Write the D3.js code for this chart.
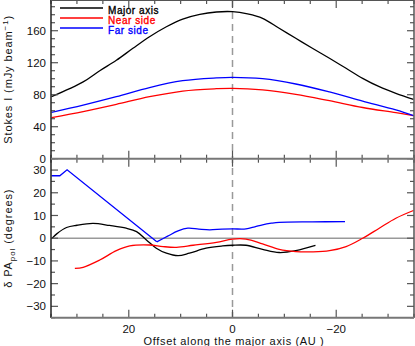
<!DOCTYPE html>
<html><head><meta charset="utf-8">
<script src="https://cdn.jsdelivr.net/npm/d3@7"></script>
<style>body{margin:0;background:#fff}svg{display:block}text{font-family:"Liberation Sans",Arial,sans-serif}</style>
</head><body><svg id="c" width="415" height="346"></svg>
<script>
// Top panel: Stokes I profiles [offset AU, mJy/beam]
const majorI = [[34.9,77.5],[28.8,96],[25.6,110],[22.4,123],[19.2,138],[16,152.5],[12.75,165],[9.6,174.6],[6.3,180.5],[3.1,183.4],[0,183.8],[-2.9,181],[-5.8,175.5],[-9,163],[-12.2,150.5],[-15.4,138],[-18.7,125.5],[-21.9,113],[-25.1,100.5],[-28.3,90],[-31.5,81.7],[-34.9,74.2]];
const nearI = [[34.9,51.3],[28.8,58.8],[22.4,68],[16,77.5],[9.6,84.6],[3.1,87.5],[0,88],[-5.8,86],[-12.2,80.5],[-18.7,72.5],[-25.1,64],[-31.5,57.5],[-34.9,53.8]];
const farI = [[34.9,58],[28.8,67],[22.4,77.5],[16,89],[9.6,97.5],[3.1,101],[0,101.7],[-5.8,100],[-12.2,93.4],[-18.7,83.4],[-25.1,72],[-31.5,61],[-34.9,53.8]];
// Bottom panel: delta PA_pol [offset AU, degrees]
const majorPA = [[34.9,-0.3],[33.9,1.9],[32,4.7],[30,5.7],[26.9,6.5],[23.7,5.6],[20.5,4.4],[18.5,2.9],[16.6,-0.75],[14.7,-4.4],[12.75,-6.6],[10.5,-7.7],[8.3,-6.6],[5.1,-4.4],[1.9,-3.4],[0,-3.1],[-2.6,-3.1],[-5.8,-4.9],[-9,-6.3],[-12.2,-5.5],[-16,-3.2]];
const nearPA = [[30.4,-13.3],[28.8,-12.8],[25.6,-9.6],[22.4,-5.5],[19.8,-3.4],[16,-3.0],[13.4,-3.7],[10.8,-4.0],[7.6,-3.1],[3.1,-1.8],[0,-0.4],[-2.6,-0.4],[-5.8,-2.5],[-9,-4.9],[-12.2,-5.9],[-15.4,-6.0],[-18.7,-5.5],[-21.9,-3.7],[-25.1,0],[-28.3,4.4],[-31.5,8.8],[-34.9,12.2]];
const farPAlinear = [[34.9,27.5],[33.3,27.5],[31.9,30.1],[14.6,-1.6]];
const farPAsmooth = [[14.6,-1.6],[12.5,0.9],[10.5,3.2],[8.6,4.4],[6.5,4.0],[4.4,3.7],[2,4.0],[0,4.1],[-2.6,4.1],[-4.3,5.0],[-5.8,5.9],[-7.5,6.6],[-9,7.0],[-15.4,7.2],[-21.7,7.3]];
const xTicks = [20, 0, -20];
const yTopTicks = [0, 40, 80, 120, 160];
const yBotTicks = [-30, -20, -10, 0, 10, 20, 30];
const legend = [["Major axis","#000"],["Near side","#f00"],["Far side","#00f"]];

const svg = d3.select("#c");
const L = 51, R = 414, T = 0, M = 158.7, B = 317.7;
const x = d3.scaleLinear().domain([35,-35]).range([L,R]);
const yT = d3.scaleLinear().domain([0,198.4]).range([M,T]);
const yB = d3.scaleLinear().domain([-35,35]).range([B,M]);
const fmt = d => d < 0 ? "\u2212" + Math.abs(d) : String(d);
const axCol = "#555";

// zero line & dashed center
svg.append("line").attr("x1",L).attr("x2",R).attr("y1",yB(0)).attr("y2",yB(0)).attr("stroke","#999").attr("stroke-width",1.5);
svg.append("line").attr("x1",x(0)).attr("x2",x(0)).attr("y1",T).attr("y2",B).attr("stroke","#999").attr("stroke-width",1.5).attr("stroke-dasharray","7,5");

function curve(data, ys, col, c) {
  svg.append("path").datum(data).attr("fill","none").attr("stroke",col).attr("stroke-width",1.3)
    .attr("d", d3.line().x(d=>x(d[0])).y(d=>ys(d[1])).curve(c || d3.curveCatmullRom));
}
curve(majorI,yT,"#000"); curve(nearI,yT,"#f00"); curve(farI,yT,"#00f");
curve(majorPA,yB,"#000"); curve(nearPA,yB,"#f00");
curve(farPAlinear,yB,"#00f", d3.curveLinear); curve(farPAsmooth,yB,"#00f");

// panels ticks
function panel(ys, y0, y1, ticks, minorStep) {
  const g = svg.append("g");
  d3.range(-35, 36, 5).forEach(v => {
    const len = v % 20 === 0 ? 8 : 4;
    g.append("line").attr("x1",x(v)).attr("x2",x(v)).attr("y1",ys(y0)).attr("y2",ys(y0)-len).attr("stroke",axCol).attr("stroke-width",1.2);
    g.append("line").attr("x1",x(v)).attr("x2",x(v)).attr("y1",ys(y1)).attr("y2",ys(y1)+len).attr("stroke",axCol).attr("stroke-width",1.2);
  });
  d3.range(Math.ceil(y0/minorStep)*minorStep, y1+0.01, minorStep).forEach(v => {
    const len = ticks.includes(v) ? 7 : 4;
    g.append("line").attr("x1",L).attr("x2",L+len).attr("y1",ys(v)).attr("y2",ys(v)).attr("stroke",axCol).attr("stroke-width",1.2);
    g.append("line").attr("x1",R).attr("x2",R-len).attr("y1",ys(v)).attr("y2",ys(v)).attr("stroke",axCol).attr("stroke-width",1.2);
  });
  ticks.forEach(v => {
    g.append("text").attr("x",L-5).attr("y",ys(v)).attr("dy","0.36em").attr("text-anchor","end").attr("font-size",11.5).attr("fill","#111").text(fmt(v));
  });
}
panel(yT, 0, 198.4, yTopTicks, 10);
panel(yB, -35, 35, yBotTicks, 5);

// frames
svg.append("line").attr("x1",L).attr("x2",L).attr("y1",T).attr("y2",B).attr("stroke","#222").attr("stroke-width",1.5);
svg.append("line").attr("x1",R).attr("x2",R).attr("y1",T).attr("y2",B).attr("stroke",axCol).attr("stroke-width",1.5);
svg.append("line").attr("x1",L).attr("x2",R).attr("y1",M).attr("y2",M).attr("stroke","#777").attr("stroke-width",2);
svg.append("line").attr("x1",L).attr("x2",R).attr("y1",B).attr("y2",B).attr("stroke","#777").attr("stroke-width",2);
svg.append("line").attr("x1",L).attr("x2",R).attr("y1",T+0.5).attr("y2",T+0.5).attr("stroke",axCol).attr("stroke-width",1);

// x tick labels
xTicks.forEach(v => {
  svg.append("text").attr("x",x(v)).attr("y",333).attr("text-anchor","middle").attr("font-size",11.5).attr("fill","#111").text(fmt(v));
});
svg.append("text").attr("x",234).attr("y",345).attr("text-anchor","middle").attr("font-size",11).attr("letter-spacing",0.65).attr("fill","#111").text("Offset along the major axis (AU )");

// y labels
const t1 = svg.append("text").attr("transform",`translate(12,${(T+M)/2}) rotate(-90)`).attr("text-anchor","middle").attr("font-size",11).attr("letter-spacing",0.9).attr("fill","#111");
t1.append("tspan").text("Stokes I (mJy beam");
t1.append("tspan").attr("font-size",8).attr("dy",-4).text("\u22121");
t1.append("tspan").attr("dy",4).text(")");
const t2 = svg.append("text").attr("transform",`translate(12,${(M+B)/2}) rotate(-90)`).attr("text-anchor","middle").attr("font-size",11).attr("letter-spacing",0.9).attr("fill","#111");
t2.append("tspan").text("\u03b4 PA");
t2.append("tspan").attr("font-size",8).attr("dy",3).text("pol");
t2.append("tspan").attr("dy",-3).text("  (degrees)");

// legend
legend.forEach((d,i) => {
  const yy = 8 + i*10;
  svg.append("line").attr("x1",60).attr("x2",103).attr("y1",yy).attr("y2",yy).attr("stroke",d[1]).attr("stroke-width",1.3);
  svg.append("text").attr("x",108).attr("y",yy+6.2).attr("font-size",10).attr("letter-spacing",0.55).attr("stroke",d[1]).attr("stroke-width",0.35).attr("fill",d[1]).text(d[0]);
});
</script></body></html>
